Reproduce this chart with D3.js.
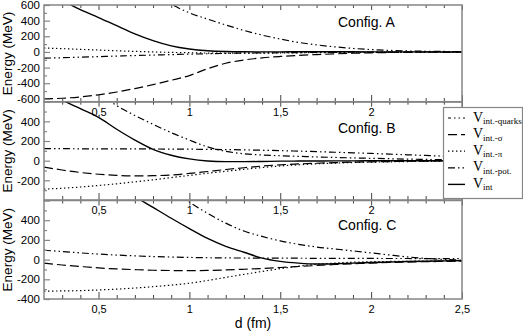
<!DOCTYPE html>
<html>
<head>
<meta charset="utf-8">
<script src="https://cdn.jsdelivr.net/npm/d3@7"></script>
<style>
  body { margin: 0; background: #fff; }
  svg { display: block; }
  text { font-family: "Liberation Sans", Arial, sans-serif; }
</style>
</head>
<body>
<svg id="chart" width="523" height="332"></svg>
<script>
// distances (fm), shared by every curve
const dist = [0.2, 0.3, 0.4, 0.5, 0.6, 0.7, 0.8, 0.9, 1.0, 1.1, 1.2, 1.3,
              1.4, 1.5, 1.6, 1.7, 1.8, 1.9, 2.0, 2.1, 2.2, 2.3, 2.4, 2.5]

// Config. A
const quarksA = [2000, 1750, 1500, 1280, 1080, 900, 750, 610, 500, 420, 345, 275,
                 215, 165, 122, 90, 65, 45, 30, 20, 13, 9, 6, 5]
const sigmaA = [-600, -592, -575, -548, -512, -468, -418, -362, -302, -215, -145, -103,
                -76, -58, -44, -34, -25, -17, -11, -7, -5, -3, -2, 0]
const piA = [50, 42, 33, 24, 15, 7, 0, -6, -10, -14, -16, -16,
             -15, -13, -11, -9, -7, -6, -5, -4, -3, -2, -2, -1]
const potA = [-80, -74, -67, -60, -53, -46, -40, -34, -28, -23, -19, -15,
              -12, -10, -8, -6, -5, -4, -3, -2, -2, -1, -1, 0]
const totalA = [800, 660, 540, 440, 335, 232, 145, 78, 38, 16, 6, 2,
                1, 1, 2, 2, 2, 2, 1, 1, 1, 1, 0, 0]

// Config. B
const quarksB = [1100, 950, 820, 690, 560, 460, 370, 285, 210, 140, 95, 70,
                 58, 50, 44, 38, 33, 28, 24, 20, 16, 13, 10, 8]
const sigmaB = [-65, -95, -120, -138, -150, -155, -153, -145, -130, -110, -90, -72,
                -55, -42, -33, -26, -20, -15, -12, -9, -6, -4, -3, -2]
const piB = [-290, -280, -268, -252, -235, -215, -195, -172, -150, -128, -108, -88,
             -70, -54, -42, -32, -25, -19, -15, -12, -9, -7, -5, -4]
const potB = [122, 122, 121, 121, 120, 120, 119, 118, 117, 115, 113, 110,
              106, 102, 97, 92, 86, 80, 74, 67, 60, 53, 46, 40]
const totalB = [760, 620, 530, 440, 320, 210, 115, 55, 18, -3, -10, -10,
                -8, -5, -4, -3, -2, -2, -1, -1, 0, 0, 0, 0]

// Config. C
const quarksC = [3000, 2700, 2400, 2000, 1600, 1250, 960, 730, 585, 470, 370, 290,
                 235, 190, 155, 128, 108, 88, 68, 47, 27, 12, 2, -5]
const sigmaC = [-35, -55, -70, -84, -95, -102, -108, -111, -112, -110, -105, -98,
                -90, -80, -70, -60, -50, -42, -35, -29, -25, -21, -18, -15]
const piC = [-320, -318, -315, -308, -300, -289, -275, -259, -240, -212, -181, -150,
             -120, -92, -67, -48, -35, -27, -22, -19, -17, -15, -13, -12]
const potC = [95, 82, 68, 56, 46, 38, 31, 26, 22, 19, 17, 16,
              15, 14, 14, 13, 13, 12, 12, 11, 11, 10, 10, 9]
const totalC = [1240, 1120, 1000, 880, 760, 640, 530, 420, 315, 215, 135, 75,
                15, -18, -36, -45, -42, -36, -30, -25, -20, -16, -13, -10]

const xMajor = [0.5, 1, 1.5, 2, 2.5]
const xMinor = [0.3, 0.4, 0.6, 0.7, 0.8, 0.9, 1.1, 1.2, 1.3, 1.4, 1.6, 1.7, 1.8, 1.9, 2.1, 2.2, 2.3, 2.4]
const yTicksA = [-600, -400, -200, 0, 200, 400, 600]
const yTicksB = [-200, 0, 200, 400]
const yTicksC = [-400, -200, 0, 200, 400]

const seriesNames = ["int.-quarks", "int.-\u03c3", "int.-\u03c0", "int.-pot.", "int"]
const dashes = ["7,3,1.5,3,1.5,3", "9,4", "1.4,2.6", "7,3,1.5,3,1.5,3", null]

const panels = [
  { name: "Config. A", series: [quarksA, sigmaA, piA, potA, totalA], domain: [-640, 600],
    top: 5, bottom: 102, ticks: yTicksA, labelY: 27, showLast: false },
  { name: "Config. B", series: [quarksB, sigmaB, piB, potB, totalB], domain: [-400, 600],
    top: 101.7, bottom: 200, ticks: yTicksB, labelY: 133, showLast: false },
  { name: "Config. C", series: [quarksC, sigmaC, piC, potC, totalC], domain: [-400, 600],
    top: 200.5, bottom: 299, ticks: yTicksC, labelY: 230, showLast: true }
]

const svg = d3.select("#chart")
const left = 44, right = 462
const x = d3.scaleLinear().domain([0.2, 2.5]).range([left, right])
const comma = d => String(d).replace(".", ",")
const frameColor = "#858585"

panels.forEach((p, k) => {
  const y = d3.scaleLinear().domain(p.domain).range([p.bottom, p.top])
  const g = svg.append("g")

  g.append("clipPath").attr("id", "clip" + k)
    .append("rect")
    .attr("x", left).attr("y", p.top)
    .attr("width", right - left).attr("height", p.bottom - p.top)

  const line = d3.line()
    .x((d, i) => x(dist[i]))
    .y(d => y(d))
    .curve(d3.curveMonotoneX)

  g.append("g").attr("clip-path", "url(#clip" + k + ")")
    .selectAll("path")
    .data(p.series)
    .enter().append("path")
    .attr("d", line)
    .attr("fill", "none")
    .attr("stroke", "#000")
    .attr("stroke-width", (d, i) => i === 4 ? 1.4 : 1.2)
    .attr("stroke-dasharray", (d, i) => dashes[i])

  // y ticks, inward
  const lo = p.domain[0] < -600 ? -600 : -400
  const yMinor = d3.range(lo, 601, 100).filter(v => v % 200 !== 0)
  g.append("g").attr("transform", "translate(" + left + ",0)")
    .call(d3.axisLeft(y).tickValues(d3.range(lo, 601, 200))
      .tickSize(-6).tickPadding(4).tickFormat(v => p.ticks.includes(v) ? v : ""))
    .call(a => a.select(".domain").remove())
    .call(a => a.selectAll("line").attr("stroke", frameColor).attr("stroke-width", 1.2))
    .call(a => a.selectAll("text").attr("fill", "#000").style("font-size", "11.5px")
      .style("font-family", "'Liberation Sans', Arial, sans-serif"))
  g.append("g").attr("transform", "translate(" + left + ",0)")
    .call(d3.axisLeft(y).tickValues(yMinor).tickSize(-3).tickFormat(""))
    .call(a => a.select(".domain").remove())
    .call(a => a.selectAll("line").attr("stroke", frameColor).attr("stroke-width", 1.2))

  // x ticks bottom with labels
  const labelled = p.showLast ? xMajor : xMajor.slice(0, -1)
  g.append("g").attr("transform", "translate(0," + p.bottom + ")")
    .call(d3.axisBottom(x).tickValues(xMajor).tickSize(-7).tickPadding(6)
      .tickFormat(v => labelled.includes(v) ? comma(v) : ""))
    .call(a => a.select(".domain").remove())
    .call(a => a.selectAll("line").attr("stroke", "#444"))
    .call(a => a.selectAll("text").attr("fill", "#000").style("font-size", "11px")
      .style("font-family", "'Liberation Sans', Arial, sans-serif"))
  g.append("g").attr("transform", "translate(0," + p.bottom + ")")
    .call(d3.axisBottom(x).tickValues(xMinor).tickSize(-4).tickFormat(""))
    .call(a => a.select(".domain").remove())
    .call(a => a.selectAll("line").attr("stroke", "#444"))
  // x ticks top
  g.append("g").attr("transform", "translate(0," + p.top + ")")
    .call(d3.axisTop(x).tickValues(xMajor).tickSize(-5).tickFormat(""))
    .call(a => a.select(".domain").remove())
    .call(a => a.selectAll("line").attr("stroke", "#444"))
  g.append("g").attr("transform", "translate(0," + p.top + ")")
    .call(d3.axisTop(x).tickValues(xMinor).tickSize(-3).tickFormat(""))
    .call(a => a.select(".domain").remove())
    .call(a => a.selectAll("line").attr("stroke", "#444"))

  g.append("rect")
    .attr("x", left).attr("y", p.top)
    .attr("width", right - left).attr("height", p.bottom - p.top)
    .attr("fill", "none")
    .attr("stroke", frameColor)
    .attr("stroke-width", 1.5)

  g.append("text")
    .attr("x", 338).attr("y", p.labelY)
    .style("font-size", "14px")
    .text(p.name)

  g.append("text")
    .attr("transform", "translate(12," + ((p.top + p.bottom) / 2) + ") rotate(-90)")
    .attr("text-anchor", "middle")
    .style("font-size", "13.5px")
    .text("Energy (MeV)")
})

svg.append("text")
  .attr("x", 253).attr("y", 328)
  .attr("text-anchor", "middle")
  .style("font-size", "14px")
  .text("d (fm)")

// legend
const legend = svg.append("g")
legend.append("rect")
  .attr("x", 443.5).attr("y", 107.5)
  .attr("width", 79).attr("height", 91)
  .attr("fill", "#fff")
  .attr("stroke", frameColor)
  .attr("stroke-width", 1.2)

const rows = legend.selectAll("g.row")
  .data(seriesNames)
  .enter().append("g")
  .attr("class", "row")
  .attr("transform", (d, i) => "translate(0," + (118 + i * 16.6) + ")")

rows.append("line")
  .attr("x1", 448).attr("x2", 465)
  .attr("stroke", "#000")
  .attr("stroke-width", (d, i) => i === 4 ? 1.4 : 1.2)
  .attr("stroke-dasharray", (d, i) => dashes[i])
  .attr("stroke-dashoffset", (d, i) => i === 0 ? 4 : 0)

rows.append("text")
  .attr("x", 473).attr("y", 3.5)
  .style("font-family", "'Liberation Serif', 'Times New Roman', serif")
  .style("font-size", "14px")
  .text("V")
rows.append("text")
  .attr("x", 483).attr("y", 6)
  .style("font-family", "'Liberation Serif', 'Times New Roman', serif")
  .style("font-size", "9px")
  .text(d => d)
</script>
</body>
</html>
